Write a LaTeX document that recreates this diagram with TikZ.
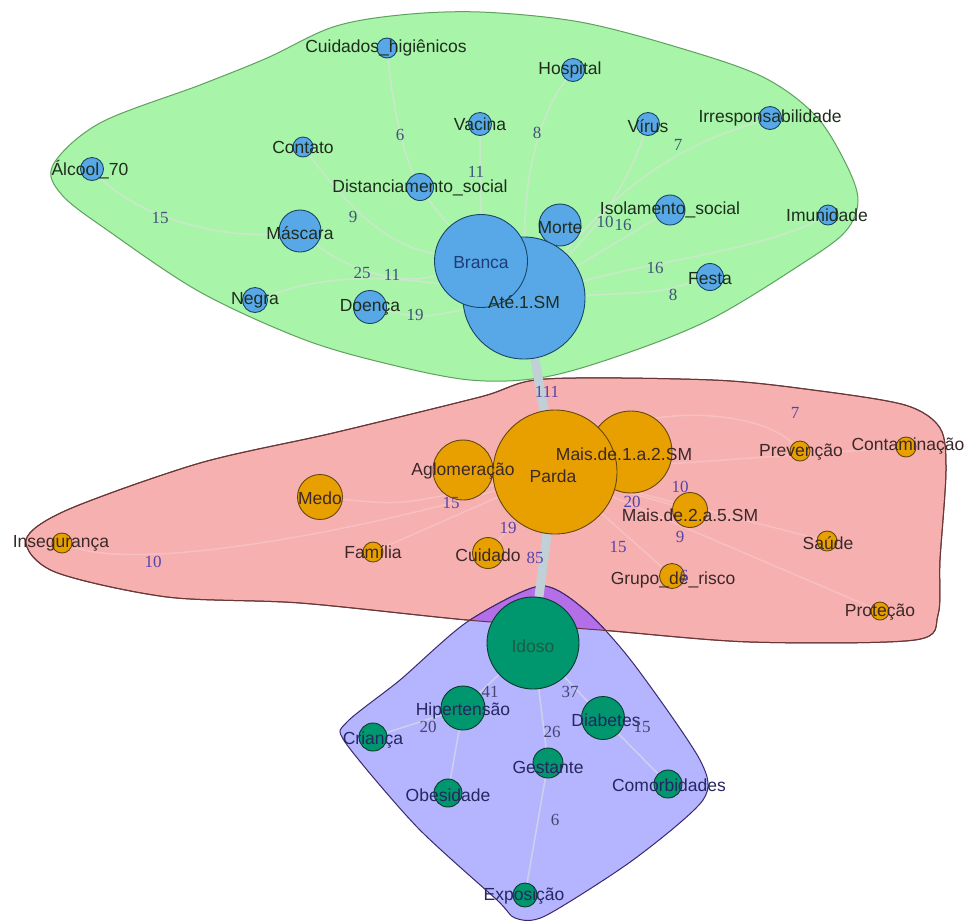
\documentclass[tikz,border=0pt]{standalone}
\usepackage{fontspec}
\setmainfont{Liberation Serif}
\newfontfamily\lblfont{Liberation Sans}
\definecolor{hullG}{RGB}{168,244,168}
\definecolor{hullGline}{RGB}{95,160,95}
\definecolor{hullP}{RGB}{246,176,176}
\definecolor{hullPline}{RGB}{105,55,55}
\definecolor{hullL}{RGB}{180,180,255}
\definecolor{hullLline}{RGB}{60,40,110}
\definecolor{overlapC}{RGB}{180,110,232}
\definecolor{nB}{RGB}{88,168,232}
\definecolor{nBd}{RGB}{25,70,100}
\definecolor{nO}{RGB}{232,160,0}
\definecolor{nOd}{RGB}{100,70,15}
\definecolor{nG}{RGB}{0,150,110}
\definecolor{nGd}{RGB}{10,58,42}
\definecolor{thickC}{RGB}{192,208,214}
\definecolor{edgeC}{RGB}{222,226,222}
\definecolor{lblG}{RGB}{30,45,30}
\definecolor{lblB}{RGB}{30,60,120}
\definecolor{lblP}{RGB}{60,40,40}
\definecolor{lblL}{RGB}{38,38,96}
\definecolor{lblI}{RGB}{30,90,68}
\definecolor{numG}{RGB}{63,85,119}
\definecolor{numP}{RGB}{85,68,170}
\definecolor{numL}{RGB}{69,69,112}
\pgfdeclarelayer{hulls}
\pgfdeclarelayer{edges}
\pgfdeclarelayer{labels}
\pgfsetlayers{hulls,edges,main,labels}
\begin{document}
\begin{tikzpicture}[x=1pt,y=-1pt,
  vtx/.style={circle, line width=0.9pt, inner sep=0pt, minimum size=#1},
  bv/.style={vtx=#1, fill=nB, draw=nBd},
  ov/.style={vtx=#1, fill=nO, draw=nOd},
  gv/.style={vtx=#1, fill=nG, draw=nGd},
  lbl/.style={font=\lblfont\fontsize{17.5}{19}\selectfont, inner sep=0pt},
  glbl/.style={lbl, text=lblG},
  plbl/.style={lbl, text=lblP},
  llbl/.style={lbl, text=lblL},
  num/.style={font=\fontsize{17}{19}\selectfont, inner sep=0pt},
  gnum/.style={num, text=numG},
  pnum/.style={num, text=numP},
  lnum/.style={num, text=numL},
  ed/.style={draw=edgeC, draw opacity=0.6, line width=1.6pt},
  fed/.style={draw=white, draw opacity=0.2, line width=1.5pt},
  thk/.style={draw=thickC, line width=9pt},
]
\useasboundingbox (0,0) rectangle (968,922);

% ---------- hulls ----------
\begin{pgfonlayer}{hulls}
\fill[white] (0,0) rectangle (968,922);
\filldraw[fill=hullG, draw=hullGline, line width=1pt] plot[smooth cycle, tension=0.55] coordinates {
 (53,165) (100,123) (200,85) (267,58) (333,27) (400,15) (480,12) (580,22) (680,48) (763,77)
 (815,115) (845,162) (858,200) (845,232) (800,265) (713,318) (630,352) (545,377) (470,380)
 (380,362) (300,338) (200,292) (110,232) (62,195)};
\filldraw[fill=hullP, draw=hullPline, line width=1pt] plot[smooth cycle, tension=0.5] coordinates {
 (26,540) (67,510) (200,463) (333,433) (480,397) (545,379) (713,380) (813,390) (905,405)
 (940,428) (946,470) (940,560) (938,615) (915,640) (750,642) (600,630) (467,620) (300,603)
 (167,597) (55,572)};
\filldraw[fill=hullL, draw=hullLline, line width=1pt] plot[smooth cycle, tension=0.45] coordinates {
 (540,586) (585,610) (633,663) (700,760) (703,800) (633,860) (545,916) (515,918) (497,900)
 (417,827) (345,742) (347,722) (400,680) (467,622)};
\begin{scope}
\clip plot[smooth cycle, tension=0.5] coordinates {
 (26,540) (67,510) (200,463) (333,433) (480,397) (545,379) (713,380) (813,390) (905,405)
 (940,428) (946,470) (940,560) (938,615) (915,640) (750,642) (600,630) (467,620) (300,603)
 (167,597) (55,572)};
\filldraw[fill=overlapC, draw=hullLline, line width=1pt] plot[smooth cycle, tension=0.45] coordinates {
 (540,586) (585,610) (633,663) (700,760) (703,800) (633,860) (545,916) (515,918) (497,900)
 (417,827) (345,742) (347,722) (400,680) (467,622)};
\end{scope}
\draw[draw=hullPline, line width=1pt] plot[smooth cycle, tension=0.5] coordinates {
 (26,540) (67,510) (200,463) (333,433) (480,397) (545,379) (713,380) (813,390) (905,405)
 (940,428) (946,470) (940,560) (938,615) (915,640) (750,642) (600,630) (467,620) (300,603)
 (167,597) (55,572)};
\end{pgfonlayer}

% ---------- vertices ----------
% green cluster (blue vertices)
\node[bv=20pt] (cuid) at (387,48) {};
\node[bv=23pt] (hosp) at (573,70) {};
\node[bv=23pt] (vac) at (480,124) {};
\node[bv=23pt] (virus) at (648,124) {};
\node[bv=23pt] (irr) at (770,118) {};
\node[bv=20pt] (cont) at (303,147) {};
\node[bv=23pt] (alc) at (92,169) {};
\node[bv=27pt] (dist) at (420,187) {};
\node[bv=30pt] (isol) at (670,210) {};
\node[bv=20pt] (imun) at (828,215) {};
\node[bv=42pt] (morte) at (560,225) {};
\node[bv=42pt] (masc) at (300,231) {};
\node[bv=122pt] (ate) at (524,298) {};
\node[bv=93pt] (branca) at (481,261) {};
\node[bv=27pt] (festa) at (710,277) {};
\node[bv=25pt] (negra) at (255,300) {};
\node[bv=33pt] (doen) at (370,307) {};
% red cluster (orange vertices)
\node[ov=82pt] (mais12) at (631,452) {};
\node[ov=60pt] (aglo) at (463,470) {};
\node[ov=124pt] (parda) at (555,472) {};
\node[ov=45pt] (medo) at (320,497) {};
\node[ov=20pt] (famil) at (373,552) {};
\node[ov=20pt] (inseg) at (62,543) {};
\node[ov=31pt] (cuidado) at (488,553) {};
\node[ov=20pt] (prev) at (800,451) {};
\node[ov=20pt] (contam) at (906,447) {};
\node[ov=35pt] (mais25) at (690,510) {};
\node[ov=20pt] (saude) at (827,541) {};
\node[ov=25pt] (grupo) at (672,576) {};
\node[ov=18pt] (prot) at (880,611) {};
% blue cluster (green vertices)
\node[gv=92pt] (idoso) at (533,643) {};
\node[gv=44pt] (hip) at (463,708) {};
\node[gv=43pt] (diab) at (603,718) {};
\node[gv=28pt] (crian) at (373,737) {};
\node[gv=30pt] (gest) at (548,763) {};
\node[gv=28pt] (obes) at (448,793) {};
\node[gv=28pt] (comorb) at (668,784) {};
\node[gv=24pt] (expo) at (525,895) {};

% ---------- edges ----------
\begin{pgfonlayer}{edges}
\draw[thk] (ate) -- (parda);
\draw[thk] (parda) -- (idoso);
% green
\draw[ed] (cuid) .. controls (392,100) and (402,150) .. (dist);
\draw[ed] (dist) .. controls (440,215) .. (branca);
\draw[ed] (vac) -- (branca);
\draw[ed] (hosp) .. controls (540,115) and (525,170) .. (ate);
\draw[ed] (virus) .. controls (630,175) and (605,220) .. (ate);
\draw[ed] (irr) .. controls (700,140) and (640,165) .. (ate);
\draw[ed] (alc) .. controls (135,215) and (220,240) .. (masc);
\draw[ed] (cont) .. controls (340,195) and (380,245) .. (branca);
\draw[ed] (masc) .. controls (345,268) and (400,287) .. (branca);
\draw[ed] (negra) .. controls (300,285) and (350,268) .. (ate);
\draw[ed] (doen) .. controls (420,318) .. (ate);
\draw[ed] (isol) -- (ate);
\draw[ed] (imun) .. controls (760,250) and (650,262) .. (ate);
\draw[ed] (festa) .. controls (660,292) .. (ate);
% red
\draw[fed] (inseg) .. controls (150,575) and (400,520) .. (parda);
\draw[fed] (medo) .. controls (400,505) .. (parda);
\draw[fed] (famil) -- (parda);
\draw[fed] (cuidado) -- (parda);
\draw[fed] (prev) .. controls (760,410) and (650,405) .. (parda);
\draw[fed] (contam) -- (parda);
\draw[fed] (saude) -- (parda);
\draw[fed] (prot) -- (parda);
\draw[fed] (grupo) -- (parda);
\draw[fed] (mais25) -- (parda);
% blue cluster
\draw[ed] (idoso) -- (hip);
\draw[ed] (idoso) -- (diab);
\draw[ed] (idoso) -- (gest);
\draw[ed] (hip) -- (crian);
\draw[ed] (hip) -- (obes);
\draw[ed] (diab) -- (comorb);
\draw[ed] (gest) -- (expo);
\end{pgfonlayer}

% ---------- labels ----------
\begin{pgfonlayer}{labels}
\node[glbl] (lcuid) at (386,48) {Cuidados\_higiênicos};
\node[glbl] (lhosp) at (570,70) {Hospital};
\node[glbl] (lvac) at (480,124) {Vacina};
\node[glbl] (lvirus) at (648,126) {Vírus};
\node[glbl] (lirr) at (770,118) {Irresponsabilidade};
\node[glbl] (lcont) at (303,147) {Contato};
\node[glbl] (lalc) at (90,170) {Álcool\_70};
\node[glbl] (ldist) at (420,188) {Distanciamento\_social};
\node[glbl] (lisol) at (670,210) {Isolamento\_social};
\node[glbl] (limun) at (827,215) {Imunidade};
\node[glbl] (lmorte) at (560,228) {Morte};
\node[glbl] (lmasc) at (300,233) {Máscara};
\node[lbl, text=lblB] (lbranca) at (481,263) {Branca};
\node[glbl] (late) at (524,302) {Até.1.SM};
\node[glbl] (lfesta) at (710,279) {Festa};
\node[glbl] (lnegra) at (255,300) {Negra};
\node[glbl] (ldoen) at (370,307) {Doença};
\node[plbl] (lmais12) at (624,454) {Mais.de.1.a.2.SM};
\node[plbl] (laglo) at (463,471) {Aglomeração};
\node[plbl] (lparda) at (553,476) {Parda};
\node[plbl] (lmedo) at (320,498) {Medo};
\node[plbl] (lfamil) at (373,552) {Família};
\node[plbl] (linseg) at (61,543) {Insegurança};
\node[plbl] (lcuidado) at (488,555) {Cuidado};
\node[plbl] (lprev) at (801,452) {Prevenção};
\node[plbl] (lcontam) at (908,446) {Contaminação};
\node[plbl] (lmais25) at (690,515) {Mais.de.2.a.5.SM};
\node[plbl] (lsaude) at (828,543) {Saúde};
\node[plbl] (lgrupo) at (673,580) {Grupo\_de\_risco};
\node[plbl] (lprot) at (880,612) {Proteção};
\node[lbl, text=lblI] (lidoso) at (533,646) {Idoso};
\node[llbl] (lhip) at (463,711) {Hipertensão};
\node[llbl] (ldiab) at (606,720) {Diabetes};
\node[llbl] (lcrian) at (373,740) {Criança};
\node[llbl] (lgest) at (548,767) {Gestante};
\node[llbl] (lobes) at (448,795) {Obesidade};
\node[llbl] (lcomorb) at (669,785) {Comorbidades};
\node[llbl] (lexpo) at (524,896) {Exposição};
% edge numbers
\node[gnum] (n1) at (400,135) {6};
\node[gnum] (n2) at (476,172) {11};
\node[gnum] (n3) at (537,133) {8};
\node[gnum] (n4) at (678,145) {7};
\node[gnum] (n5) at (160,218) {15};
\node[gnum] (n6) at (353,217) {9};
\node[gnum] (n7) at (605,222) {10};
\node[gnum] (n8) at (623,225) {16};
\node[gnum] (n9) at (655,268) {16};
\node[gnum] (n10) at (673,295) {8};
\node[gnum] (n11) at (362,273) {25};
\node[gnum] (n12) at (392,275) {11};
\node[gnum] (n13) at (415,315) {19};
\node[pnum] (n14) at (547,392) {111};
\node[pnum] (n15) at (795,413) {7};
\node[pnum] (n16) at (451,503) {15};
\node[pnum] (n17) at (508,528) {19};
\node[pnum] (n18) at (535,558) {85};
\node[pnum] (n19) at (632,502) {20};
\node[pnum] (n20) at (680,487) {10};
\node[pnum] (n21) at (680,537) {9};
\node[pnum] (n22) at (618,547) {15};
\node[pnum] (n23) at (684,576) {6};
\node[pnum] (n24) at (153,562) {10};
\node[lnum] (n25) at (490,692) {41};
\node[lnum] (n26) at (570,692) {37};
\node[lnum] (n27) at (428,727) {20};
\node[lnum] (n28) at (552,732) {26};
\node[lnum] (n29) at (642,727) {15};
\node[lnum] (n30) at (555,820) {6};
\end{pgfonlayer}
\end{tikzpicture}
\end{document}
